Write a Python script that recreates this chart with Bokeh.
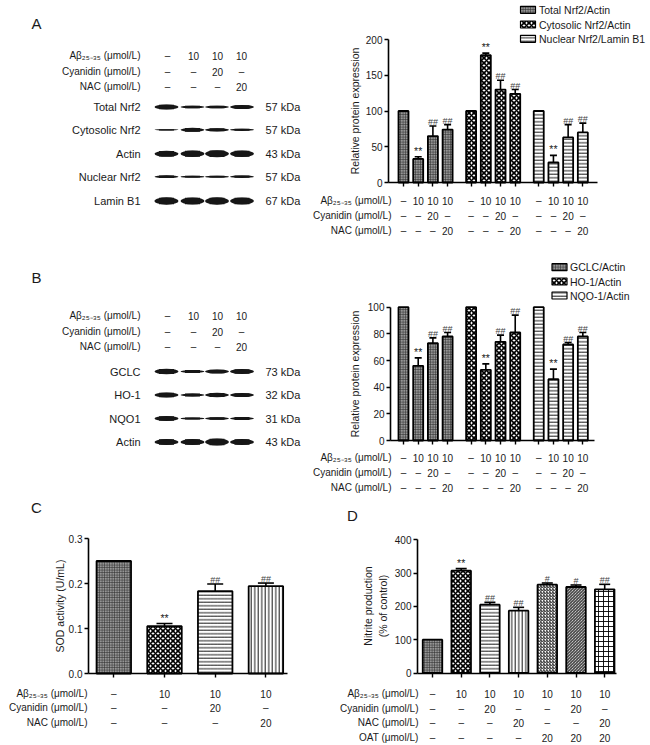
import math
from bokeh.plotting import figure
from bokeh.layouts import column, row
from bokeh.models import (ColumnDataSource, LinearAxis, FixedTicker, Range1d,
                          Whisker, TeeHead, NumeralTickFormatter)
from bokeh.embed import file_html
from bokeh.resources import INLINE
from bokeh.core.properties import value

# ---------------- data ----------------
AB = "Aβ₂₅₋₃₅ (μmol/L)"
CY = "Cyanidin (μmol/L)"
NAC = "NAC (μmol/L)"
OAT = "OAT (μmol/L)"

ab_4 = ["–", "10", "10", "10"]
cy_4 = ["–", "–", "20", "–"]
nac_4 = ["–", "–", "–", "20"]

ab_7 = ["–", "10", "10", "10", "10", "10", "10"]
cy_7 = ["–", "–", "20", "–", "–", "20", "–"]
nac_7 = ["–", "–", "–", "20", "–", "–", "20"]
oat_7 = ["–", "–", "–", "–", "20", "20", "20"]

blot_a_names = ["Total Nrf2", "Cytosolic Nrf2", "Actin", "Nuclear Nrf2", "Lamin B1"]
blot_a_kda = ["57 kDa", "57 kDa", "43 kDa", "57 kDa", "67 kDa"]
blot_a_intensity = [[5, 2.7, 2.7, 4], [1.3, 4, 3.3, 2.2], [6, 6.5, 7, 6.5],
                    [2.7, 2, 2, 2.5], [7.3, 7, 7.3, 7]]
blot_b_names = ["GCLC", "HO-1", "NQO1", "Actin"]
blot_b_kda = ["73 kDa", "32 kDa", "31 kDa", "43 kDa"]
blot_b_intensity = [[5.5, 3, 4, 5], [5, 3, 4.5, 4], [5, 2, 2.5, 3], [6, 6, 7, 6]]

nrf2_labels = ["Total Nrf2/Actin", "Cytosolic Nrf2/Actin", "Nuclear Nrf2/Lamin B1"]
total_nrf2 = [100, 33, 65, 74]
total_nrf2_err = [0, 3, 14, 7]
cyto_nrf2 = [100, 178, 130, 124]
cyto_nrf2_err = [0, 3, 13, 6]
nuclear_nrf2 = [100, 28, 63, 70]
nuclear_nrf2_err = [0, 10, 18, 13]

target_labels = ["GCLC/Actin", "HO-1/Actin", "NQO-1/Actin"]
gclc = [100, 56, 73, 78]
gclc_err = [0, 6, 4, 3]
ho1 = [100, 53, 74, 81]
ho1_err = [0, 4.5, 5, 13]
nqo1 = [100, 46, 72, 78]
nqo1_err = [0, 7.5, 1.5, 3]
sig_4 = ["", "**", "##", "##"]

sod = [0.25, 0.105, 0.183, 0.194]
sod_err = [0, 0.006, 0.016, 0.007]

nitrite = [100, 307, 205, 187, 265, 258, 251]
nitrite_err = [0, 6, 7, 10, 5, 6, 15]
nitrite_sig = ["", "**", "##", "##", "#", "#", "##"]
nitrite_ylabel = ["Nitrite production", "(% of control)"]

# ---------------- styling ----------------
FONT = value("Liberation Sans")
FONT_NAME = "Liberation Sans"
TXT = "#1a1a1a"

STYLES = {
    "gray": dict(fill_color="#959595", hatch_pattern="+", hatch_color="#333333",
                 hatch_scale=2.5, hatch_weight=0.7),
    "check": dict(fill_color="white", hatch_pattern="x", hatch_color="black",
                  hatch_scale=5, hatch_weight=1.6),
    "hline": dict(fill_color="white", hatch_pattern="-", hatch_color="black",
                  hatch_scale=3.5, hatch_weight=0.9),
    "vline": dict(fill_color="white", hatch_pattern="|", hatch_color="black",
                  hatch_scale=3.5, hatch_weight=0.9),
    "rdiag": dict(fill_color="white", hatch_pattern="/", hatch_color="black",
                  hatch_scale=3, hatch_weight=0.9),
    "ldiag": dict(fill_color="white", hatch_pattern="\\", hatch_color="black",
                  hatch_scale=3, hatch_weight=0.9),
    "grid": dict(fill_color="white", hatch_pattern="+", hatch_color="black",
                 hatch_scale=5, hatch_weight=0.9),
}

ROW_H = [255, 243, 247]
W_BLOT = 301
W_BAR = 650 - W_BLOT
W_C = 320
W_D = 650 - W_C


def make_fig(W, H, xr, yr):
    p = figure(width=W, height=H, x_range=Range1d(*xr), y_range=Range1d(*yr),
               output_backend="svg", toolbar_location=None,
               x_axis_location=None, y_axis_location=None, min_border=0,
               outline_line_color=None)
    p.grid.visible = False
    p.background_fill_color = "white"
    p.border_fill_color = "white"
    return p


def txt(p, xs, ys, texts, align="center", size="10px", baseline="middle",
        color=TXT, **kw):
    p.text(x=list(xs), y=list(ys), text=list(texts), text_align=align,
           text_baseline=baseline, text_font=FONT, text_font_size=size,
           text_color=color, **kw)


def bar_fig(W, H, rx0, rx1, ry0, ry1, ax, bx, ay, by):
    X = lambda r: (r - ax) / bx
    Y = lambda r: (ay - r) / by
    p = make_fig(W, H, (X(rx0), X(rx1)), (Y(ry1), Y(ry0)))
    return p, X, Y


def add_axes(p, xloc, yticks, ylabel, xend, xticks, standoff, fmt=None):
    ya = LinearAxis(fixed_location=xloc, bounds=(yticks[0], yticks[-1]),
                    ticker=FixedTicker(ticks=yticks), axis_label=ylabel,
                    axis_line_width=1.6, major_tick_line_width=1.4,
                    major_tick_out=4, major_tick_in=0,
                    minor_tick_line_color=None,
                    major_label_text_font=FONT_NAME,
                    major_label_text_font_size="10px",
                    major_label_text_color=TXT, major_label_standoff=2,
                    axis_label_text_font=FONT_NAME,
                    axis_label_text_font_size="10.5px",
                    axis_label_text_font_style="normal",
                    axis_label_text_color=TXT,
                    axis_label_standoff=standoff)
    if fmt:
        ya.formatter = NumeralTickFormatter(format=fmt)
    p.add_layout(ya, "left")
    xa = LinearAxis(fixed_location=0, bounds=(xloc, xend),
                    ticker=FixedTicker(ticks=xticks),
                    axis_line_width=1.6, major_tick_line_width=1.4,
                    major_tick_out=4, major_tick_in=0,
                    minor_tick_line_color=None,
                    major_label_text_color=None)
    p.add_layout(xa, "below")


def add_series(p, xs, vals, errs, sig, style, width, cap):
    src = ColumnDataSource(dict(x=xs, top=vals))
    r = p.vbar(x="x", top="top", bottom=0, width=width, source=src,
               line_color="black", line_width=1.8, **STYLES[style])
    keep = [i for i, e in enumerate(errs) if e > 0]
    esrc = ColumnDataSource(dict(x=[xs[i] for i in keep],
                                 lo=[vals[i] for i in keep],
                                 hi=[vals[i] + errs[i] for i in keep]))
    p.add_layout(Whisker(source=esrc, base="x", lower="lo", upper="hi",
                         dimension="height", line_color="black", line_width=1.6,
                         lower_head=None,
                         upper_head=TeeHead(size=cap, line_color="black",
                                            line_width=1.6)))
    sk = [i for i, s in enumerate(sig) if s]
    stars = [i for i in sk if "*" in sig[i]]
    hashes = [i for i in sk if "*" not in sig[i]]
    if stars:
        txt(p, [xs[i] for i in stars], [vals[i] + errs[i] for i in stars],
            [sig[i] for i in stars], baseline="alphabetic", size="10.5px",
            color="#222", y_offset=-6)
    if hashes:
        txt(p, [xs[i] for i in hashes], [vals[i] + errs[i] for i in hashes],
            [sig[i] for i in hashes], baseline="alphabetic", size="9px",
            color="#444", y_offset=-4)
    return r


def add_legend(p, X, Y, sx, ys, tx, labels, styles, bx, by):
    for yy, lab, st in zip(ys, labels, styles):
        p.rect(x=[X(sx)], y=[Y(yy)], width=15 / bx, height=7 / by,
               line_color="black", line_width=1.2, **STYLES[st])
        txt(p, [X(tx)], [Y(yy)], [lab], align="left", size="10.5px")


def add_table(p, X, Y, xs, row_ys, head_x, heads, rows):
    for yy, h, vals in zip(row_ys, heads, rows):
        txt(p, [X(head_x)], [Y(yy)], [h], align="right", size="10px")
        txt(p, xs, [Y(yy)] * len(xs), vals, size="10px")


def blot_fig(W, H, ry0, ry1, letter, letter_y, head_ys, names, kdas, inten,
             band_ys):
    p = make_fig(W, H, (0, 301), (ry1, ry0))
    txt(p, [36], [letter_y], [letter], size="15px")
    lanes_txt = [167, 193, 217, 241]
    for yy, h, vals in zip(head_ys, [AB, CY, NAC], [ab_4, cy_4, nac_4]):
        txt(p, [140], [yy], [h], align="right", size="10px")
        txt(p, lanes_txt, [yy] * 4, vals, size="10px")
    lanes = [166, 192, 216.5, 241.5]
    xs, ys, hs = [], [], []
    for yy, row_i in zip(band_ys, inten):
        for lx, t in zip(lanes, row_i):
            xs.append(lx)
            ys.append(yy)
            hs.append(t)
    p.ellipse(x=xs, y=ys, width=24, height=hs, fill_color="#161616",
              line_color=None)
    p.rect(x=xs, y=ys, width=15, height=[h * 0.92 for h in hs],
           fill_color="#161616", line_color=None)
    txt(p, [140] * len(names), [y + 0.3 for y in band_ys], names, align="right",
        size="11px")
    txt(p, [265] * len(kdas), [y + 0.3 for y in band_ys], kdas, align="left",
        size="11px")
    return p


# ---------------- Panel A ----------------
blotA = blot_fig(W_BLOT, ROW_H[0], 0, 255, "A", 23, [55, 71, 86],
                 blot_a_names, blot_a_kda, blot_a_intensity,
                 [106.5, 129.3, 153.3, 176.2, 200.5])

pA, XA, YA = bar_fig(W_BAR, ROW_H[0], 301, 650, 0, 255, 403, 14.7, 182, 0.715)
posA = [[g * 4.6 + i for i in range(4)] for g in range(3)]
add_axes(pA, XA(388), [0, 50, 100, 150, 200], "Relative protein expression",
         XA(597), sum(posA, []), 2)
for xs, v, e, st in zip(posA, [total_nrf2, cyto_nrf2, nuclear_nrf2],
                        [total_nrf2_err, cyto_nrf2_err, nuclear_nrf2_err],
                        ["gray", "check", "hline"]):
    add_series(pA, xs, v, e, sig_4, st, 0.68, 7)
add_legend(pA, XA, YA, 527.5, [9.3, 24, 38.3], 538.5, nrf2_labels,
           ["gray", "check", "hline"], 14.7, 0.715)
add_table(pA, XA, YA, sum(posA, []), [200, 215, 230], 391, [AB, CY, NAC],
          [ab_4 * 3, cy_4 * 3, nac_4 * 3])

# ---------------- Panel B ----------------
blotB = blot_fig(W_BLOT, ROW_H[1], 255, 498, "B", 277, [315, 331, 346],
                 blot_b_names, blot_b_kda, blot_b_intensity,
                 [371, 394.5, 418, 441.5])

pB, XB, YB = bar_fig(W_BAR, ROW_H[1], 301, 650, 255, 498, 403, 14.7, 440, 1.3333)
add_axes(pB, XB(390), [0, 20, 40, 60, 80, 100], "Relative protein expression",
         XB(594), sum(posA, []), 4)
for xs, v, e, st in zip(posA, [gclc, ho1, nqo1], [gclc_err, ho1_err, nqo1_err],
                        ["gray", "check", "hline"]):
    add_series(pB, xs, v, e, sig_4, st, 0.68, 7)
add_legend(pB, XB, YB, 559, [266.7, 281, 295], 569.5, target_labels,
           ["gray", "check", "hline"], 14.7, 1.3333)
add_table(pB, XB, YB, sum(posA, []), [457, 472, 487], 391, [AB, CY, NAC],
          [ab_4 * 3, cy_4 * 3, nac_4 * 3])

# ---------------- Panel C ----------------
pC, XC, YC = bar_fig(W_C, ROW_H[2], 0, 320, 498, 745, 113.3, 50.7, 673, 450)
posC = [0, 1, 2, 3]
add_axes(pC, XC(88), [0, 0.1, 0.2, 0.3], "SOD activity (U/mL)", XC(287), posC,
         0, fmt="0.0")
for i, st in enumerate(["gray", "check", "hline", "vline"]):
    add_series(pC, [posC[i]], [sod[i]], [sod_err[i]], [sig_4[i]], st, 0.68, 16)
txt(pC, [XC(36)], [YC(507)], ["C"], size="15px")
add_table(pC, XC, YC, posC, [693, 707, 722], 87, [AB, CY, NAC],
          [ab_4, cy_4, nac_4])

# ---------------- Panel D ----------------
pD, XD, YD = bar_fig(W_D, ROW_H[2], 320, 650, 498, 745, 432, 28.7, 672.5, 0.33333)
posD = list(range(7))
add_axes(pD, XD(417), [0, 100, 200, 300, 400], None, XD(616), posD, 0)
txt(pD, [XD(367), XD(382)], [YD(605.5), YD(605.5)], nitrite_ylabel,
    size="10.5px", angle=math.pi / 2)
for i, st in enumerate(["gray", "check", "hline", "vline", "rdiag", "ldiag", "grid"]):
    add_series(pD, [posD[i]], [nitrite[i]], [nitrite_err[i]], [nitrite_sig[i]],
               st, 0.68, 11)
txt(pD, [XD(352)], [YD(515)], ["D"], size="15px")
add_table(pD, XD, YD, posD, [693, 708, 722, 737], 418, [AB, CY, NAC, OAT],
          [ab_7, cy_7, nac_7, oat_7])

layout = column(row(blotA, pA), row(blotB, pB), row(pC, pD))
open("out.html", "w").write(file_html(layout, INLINE))
